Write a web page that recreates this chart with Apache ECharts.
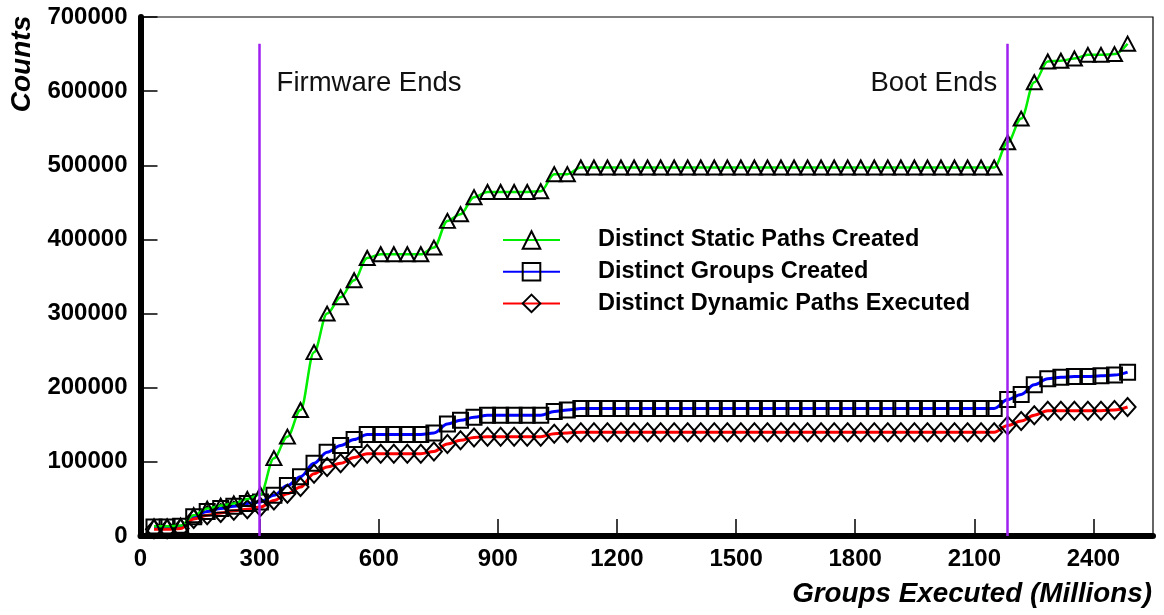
<!DOCTYPE html>
<html>
<head>
<meta charset="utf-8">
<script src="https://cdn.jsdelivr.net/npm/echarts@6/dist/echarts.min.js"></script>
<style>
html,body{margin:0;padding:0;background:#fff;}
#chart{width:1164px;height:615px;}
</style>
</head>
<body>
<div id="chart"></div>
<script>
// Groups executed (millions) at each sample
var groupsExecuted = [34, 67, 101, 134, 168, 202, 235, 269, 302, 336, 370, 403, 437, 470, 504, 538, 571, 605, 638, 672,
  706, 739, 773, 806, 840, 874, 907, 941, 974, 1008, 1042, 1075, 1109, 1142, 1176, 1210, 1243, 1277, 1310, 1344,
  1378, 1411, 1445, 1478, 1512, 1546, 1579, 1613, 1646, 1680, 1714, 1747, 1781, 1814, 1848, 1882, 1915, 1949, 1982, 2016,
  2050, 2083, 2117, 2150, 2184, 2218, 2251, 2285, 2318, 2352, 2386, 2419, 2453, 2486];

var staticPaths = [13000, 13000, 14000, 28000, 37000, 41000, 44000, 50000, 56000, 105000,
  134000, 170000, 248000, 300000, 322000, 345000, 375000, 380000, 380000, 380000,
  380000, 389000, 425000, 434000, 457000, 464000, 464000, 464000, 464000, 465000,
  488000, 488000, 497000, 497000, 497000, 497000, 497000, 497000, 497000, 497000,
  497000, 497000, 497000, 497000, 497000, 497000, 497000, 497000, 497000, 497000,
  497000, 497000, 497000, 497000, 497000, 497000, 497000, 497000, 497000, 497000,
  497000, 497000, 497000, 497000, 531000, 563000, 612000, 640000, 641000, 644000,
  649000, 649000, 650000, 664000];

var groupsCreated = [12000, 12000, 13000, 26000, 33000, 37000, 40000, 44000, 46000, 55000,
  68000, 80000, 98000, 113000, 122000, 130000, 137000, 137000, 137000, 137000,
  137000, 139000, 151000, 156000, 160000, 163000, 163000, 163000, 163000, 163000,
  168000, 170000, 172000, 172000, 172000, 172000, 172000, 172000, 172000, 172000,
  172000, 172000, 172000, 172000, 172000, 172000, 172000, 172000, 172000, 172000,
  172000, 172000, 172000, 172000, 172000, 172000, 172000, 172000, 172000, 172000,
  172000, 172000, 172000, 172000, 184000, 191000, 204000, 212000, 214000, 215000,
  215000, 216000, 217000, 221000];

var dynamicPaths = [9000, 9000, 10000, 23000, 28000, 31000, 34000, 36000, 39000, 48000,
  57000, 66000, 84000, 93000, 98000, 106000, 111000, 111000, 111000, 111000,
  111000, 114000, 124000, 129000, 133000, 134000, 134000, 134000, 134000, 134000,
  138000, 139000, 140000, 140000, 140000, 140000, 140000, 140000, 140000, 140000,
  140000, 140000, 140000, 140000, 140000, 140000, 140000, 140000, 140000, 140000,
  140000, 140000, 140000, 140000, 140000, 140000, 140000, 140000, 140000, 140000,
  140000, 140000, 140000, 140000, 149000, 155000, 163000, 169000, 169000, 169000,
  169000, 169000, 170000, 174000];

var seriesNames = ['Distinct Static Paths Created', 'Distinct Groups Created', 'Distinct Dynamic Paths Executed'];
var phaseX = [300, 2183];
var phaseLabels = ['Firmware Ends', 'Boot Ends'];
var phaseLineTop = 664000;
var phaseLabelY = 611000;
var xTicks = {min: 0, max: 2550, interval: 300};
var yTicks = {min: 0, max: 700000, interval: 100000};

var FONT = '"Liberation Sans", Arial, Helvetica, sans-serif';

function pairs(xs, ys) {
  return xs.map(function (x, i) { return [x, ys[i]]; });
}
function plain(v) { return String(v); }

var markerStyle = {color: 'transparent', borderColor: '#000', borderWidth: 2};

var chart = echarts.init(document.getElementById('chart'), null, {renderer: 'canvas'});
chart.setOption({
  backgroundColor: '#fff',
  animation: false,
  grid: {left: 140.5, right: 11, top: 17, bottom: 79, show: true, borderColor: '#000', borderWidth: 1.2, backgroundColor: 'transparent'},
  xAxis: {
    type: 'value', min: xTicks.min, max: xTicks.max, interval: xTicks.interval,
    axisLine: {show: true, onZero: false, lineStyle: {color: '#000', width: 6}},
    axisTick: {show: true, inside: true, length: 17, lineStyle: {color: '#000', width: 1.5}},
    axisLabel: {show: true, showMaxLabel: false, margin: 11, color: '#000', fontFamily: FONT, fontWeight: 'bold', fontSize: 24, formatter: plain},
    splitLine: {show: false}
  },
  yAxis: {
    type: 'value', min: yTicks.min, max: yTicks.max, interval: yTicks.interval,
    axisLine: {show: true, onZero: false, lineStyle: {color: '#000', width: 6}},
    axisTick: {show: true, inside: true, length: 17, lineStyle: {color: '#000', width: 1.5}},
    axisLabel: {show: true, margin: 13, color: '#000', fontFamily: FONT, fontWeight: 'bold', fontSize: 24, formatter: plain},
    splitLine: {show: false}
  },
  legend: {
    show: true, orient: 'vertical', left: 502, top: 228, padding: 0,
    itemWidth: 57, itemHeight: 22, itemGap: 7.7,
    data: seriesNames,
    textStyle: {color: '#000', fontFamily: FONT, fontWeight: 'bold', fontSize: 23.5, lineHeight: 24, padding: [0, 0, 0, 33]}
  },
  graphic: [
    {type: 'text', x: 22, y: 64, rotation: Math.PI / 2,
     style: {text: 'Counts', fill: '#000', font: 'italic bold 28px ' + FONT, align: 'center', verticalAlign: 'middle'}},
    {type: 'text', x: 1152, y: 594,
     style: {text: 'Groups Executed (Millions)', fill: '#000', font: 'italic bold 27.8px ' + FONT, align: 'right', verticalAlign: 'middle'}}
  ],
  series: [
    {
      name: seriesNames[0], type: 'line', data: pairs(groupsExecuted, staticPaths),
      smooth: 0.35, smoothMonotone: 'x',
      symbol: 'triangle', symbolSize: [15, 14], showAllSymbol: true,
      lineStyle: {color: '#00ee00', width: 2.5},
      itemStyle: markerStyle, z: 3,
      markLine: {
        silent: true, symbol: ['none', 'none'],
        lineStyle: {color: '#a020f0', width: 2.5, type: 'solid'},
        label: {show: false},
        data: [
          [{coord: [phaseX[0], 0]}, {coord: [phaseX[0], phaseLineTop]}],
          [{coord: [phaseX[1], 0]}, {coord: [phaseX[1], phaseLineTop]}]
        ]
      },
      markPoint: {
        silent: true, symbol: 'circle', symbolSize: 0,
        data: [
          {coord: [phaseX[0], phaseLabelY], label: {show: true, position: 'right', distance: 17, formatter: phaseLabels[0], color: '#111', fontFamily: FONT, fontSize: 27.5}},
          {coord: [phaseX[1], phaseLabelY], label: {show: true, position: 'left', distance: 10, formatter: phaseLabels[1], color: '#111', fontFamily: FONT, fontSize: 27.5}}
        ]
      }
    },
    {
      name: seriesNames[1], type: 'line', data: pairs(groupsExecuted, groupsCreated),
      smooth: 0.35, smoothMonotone: 'x',
      symbol: 'rect', symbolSize: [15, 15], showAllSymbol: true,
      lineStyle: {color: '#0000ff', width: 3},
      itemStyle: markerStyle, z: 2
    },
    {
      name: seriesNames[2], type: 'line', data: pairs(groupsExecuted, dynamicPaths),
      smooth: 0.35, smoothMonotone: 'x',
      symbol: 'diamond', symbolSize: [16, 18], showAllSymbol: true,
      lineStyle: {color: '#ff0000', width: 3},
      itemStyle: markerStyle, z: 2
    }
  ]
});
</script>
</body>
</html>
